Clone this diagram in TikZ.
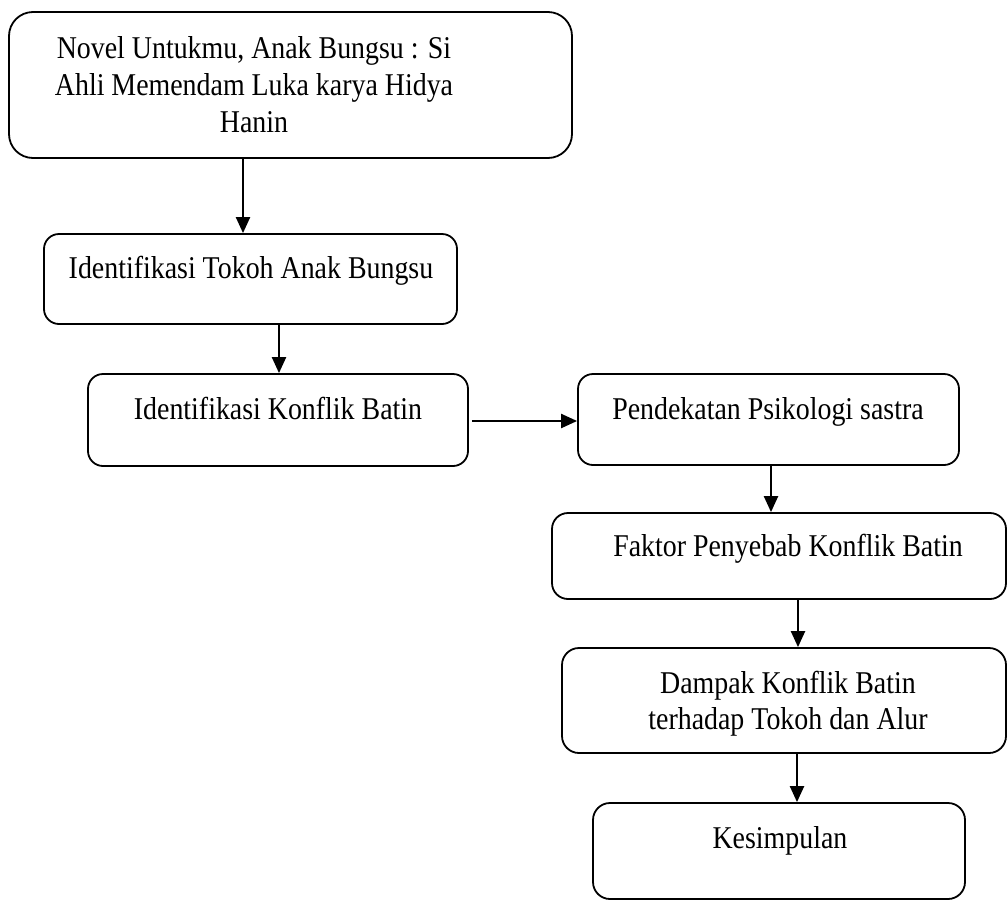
\documentclass[tikz,border=0pt]{standalone}
\usepackage{fontspec}
\setmainfont[FakeStretch=0.88]{Liberation Serif}
\usetikzlibrary{arrows.meta}
\begin{document}
\begin{tikzpicture}[x=1pt,y=-1pt,
  box/.style={draw, line width=1.8pt, rounded corners=#1, inner sep=0pt},
  box/.default=15pt,
  txt/.style={anchor=base, inner sep=0pt, font=\fontsize{31.7}{37}\selectfont},
  arr/.style={line width=2.2pt, -{Triangle[length=16pt,width=14pt]}}]
\useasboundingbox (0,0) rectangle (1007,900);
% boxes
\node[box=24pt, minimum width=563pt, minimum height=146pt] (b1) at (290.5,85) {};
\node[box=15pt, minimum width=413pt, minimum height=90pt] (b2) at (250.5,279) {};
\node[box=15pt, minimum width=380pt, minimum height=92pt] (b3) at (278,420) {};
\node[box=15pt, minimum width=381pt, minimum height=91pt] (b4) at (768.5,419.5) {};
\node[box=16pt, minimum width=454pt, minimum height=86pt] (b5) at (779,556) {};
\node[box=17pt, minimum width=444pt, minimum height=105pt] (b6) at (784,700.5) {};
\node[box=17pt, minimum width=372pt, minimum height=96pt] (b7) at (779,851) {};
% texts
\node[txt] (t1a) at (254,58) {Novel Untukmu, Anak Bungsu : Si};
\node[txt] (t1b) at (254,95) {Ahli Memendam Luka karya Hidya};
\node[txt] (t1c) at (254,132) {Hanin};
\node[txt] (t2) at (251,278) {Identifikasi Tokoh Anak Bungsu};
\node[txt] (t3) at (278,419) {Identifikasi Konflik Batin};
\node[txt] (t4) at (768,419) {Pendekatan Psikologi sastra};
\node[txt] (t5) at (788,556) {Faktor Penyebab Konflik Batin};
\node[txt] (t6a) at (788,693) {Dampak Konflik Batin};
\node[txt] (t6b) at (788,729) {terhadap Tokoh dan Alur};
\node[txt] (t7) at (780,848) {Kesimpulan};
% connector x positions
\coordinate (x1) at (243,0);
\coordinate (x2) at (279,0);
\coordinate (x4) at (771,0);
\coordinate (x5) at (798,0);
\coordinate (x6) at (797,0);
\coordinate (y3) at (0,421);
% connectors
\draw[arr] (b1.south -| x1) -- (b2.north -| x1);
\draw[arr] (b2.south -| x2) -- (b3.north -| x2);
\draw[arr] ([xshift=3pt]b3.east |- y3) -- (b4.west |- y3);
\draw[arr] (b4.south -| x4) -- (b5.north -| x4);
\draw[arr] (b5.south -| x5) -- (b6.north -| x5);
\draw[arr] (b6.south -| x6) -- (b7.north -| x6);
\end{tikzpicture}
\end{document}
